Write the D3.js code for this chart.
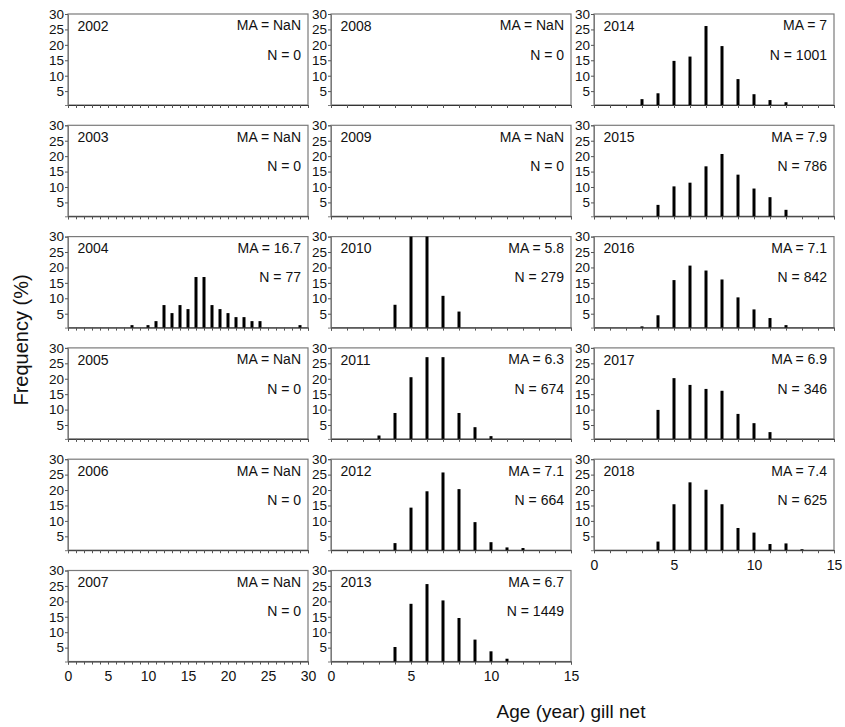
<!DOCTYPE html>
<html><head><meta charset="utf-8">
<script src="https://cdn.jsdelivr.net/npm/d3@7"></script>
<style>
body{margin:0;background:#fff}
text{font-family:"Liberation Sans",Arial,sans-serif;fill:#111}
</style>
</head><body>
<svg id="chart" width="845" height="727"></svg>
<script>
// Age-frequency distributions (%) from gill net samples, one panel per year
const years = [2002,2003,2004,2005,2006,2007,2008,2009,2010,2011,2012,2013,2014,2015,2016,2017,2018];
const meanAge = ["NaN","NaN","16.7","NaN","NaN","NaN","NaN","NaN","5.8","6.3","7.1","6.7","7","7.9","7.1","6.9","7.4"];
const sampleSize = [0,0,77,0,0,0,0,0,279,674,664,1449,1001,786,842,346,625];
const yTicks = [5,10,15,20,25,30];
const xTicksWide = [0,5,10,15,20,25,30];
const xTicksNarrow = [0,5,10,15];

// [age, percent]
const freq2004 = [[8,1.3],[10,1.3],[11,2.6],[12,7.8],[13,5.2],[14,7.8],[15,6.5],[16,16.9],[17,16.9],[18,7.8],[19,6.5],[20,5.2],[21,3.9],[22,3.9],[23,2.6],[24,2.6],[29,1.3]];
const freq2010 = [[4,7.9],[5,30.8],[6,44.8],[7,10.8],[8,5.7]];
const freq2011 = [[3,1.6],[4,8.9],[5,20.5],[6,27.0],[7,27.0],[8,8.9],[9,4.3],[10,1.4]];
const freq2012 = [[4,2.8],[5,14.3],[6,19.6],[7,25.7],[8,20.3],[9,9.6],[10,3.1],[11,1.4],[12,1.2]];
const freq2013 = [[4,5.2],[5,19.2],[6,25.6],[7,20.3],[8,14.6],[9,7.6],[10,3.8],[11,1.4]];
const freq2014 = [[3,2.4],[4,4.3],[5,14.8],[6,16.2],[7,26.1],[8,19.6],[9,8.9],[10,4.0],[11,2.1],[12,1.4]];
const freq2015 = [[4,4.2],[5,10.2],[6,11.4],[7,16.7],[8,20.7],[9,14.0],[10,9.5],[11,6.7],[12,2.6]];
const freq2016 = [[3,0.9],[4,4.5],[5,15.9],[6,20.6],[7,19.0],[8,16.1],[9,10.3],[10,6.4],[11,3.6],[12,1.3]];
const freq2017 = [[4,9.9],[5,20.2],[6,18.0],[7,16.7],[8,16.1],[9,8.6],[10,5.6],[11,2.7]];
const freq2018 = [[4,3.3],[5,15.4],[6,22.5],[7,20.1],[8,15.4],[9,7.7],[10,6.2],[11,2.5],[12,2.7],[13,0.8]];

const freqByYear = {2004:freq2004,2010:freq2010,2011:freq2011,2012:freq2012,2013:freq2013,
  2014:freq2014,2015:freq2015,2016:freq2016,2017:freq2017,2018:freq2018};

const svg = d3.select("#chart");
const colLeft = [68, 331, 594];
const panelW = 240, panelH = 91, rowTop = 14, rowStep = 111.3;
const perCol = 6;

years.forEach((yr, i) => {
  const col = Math.floor(i / perCol), row = i % perCol;
  const x0 = colLeft[col], y0 = rowTop + row * rowStep;
  const xMax = col === 0 ? 30 : 15;
  const x = d3.scaleLinear().domain([0, xMax]).range([0, panelW]);
  const y = d3.scaleLinear().domain([0.5, 30]).range([panelH, 0]).clamp(true);
  const g = svg.append("g").attr("transform", `translate(${x0},${y0})`);

  // frame
  g.append("rect").attr("width", panelW).attr("height", panelH)
    .attr("fill", "none").attr("stroke", "#7a7a7a").attr("stroke-width", 1.2);

  // y axis
  const ya = g.append("g").call(d3.axisLeft(y).tickValues(yTicks).tickSize(3).tickPadding(1));
  ya.select(".domain").attr("stroke", "#7a7a7a");
  ya.selectAll(".tick line").attr("stroke", "#555");
  ya.selectAll("text").style("font-size", "13.5px").attr("fill", "#111");

  // x axis: minor ticks every year of age
  const lastInCol = (col < 2 && row === perCol - 1) || (col === 2 && i === years.length - 1);
  const xa = g.append("g").attr("transform", `translate(0,${panelH})`)
    .call(d3.axisBottom(x).tickValues(d3.range(0, xMax + 1)).tickSize(3).tickFormat(""));
  xa.select(".domain").attr("stroke", "#333");
  xa.selectAll(".tick line").attr("stroke", "#555");
  if (lastInCol) {
    const xl = g.append("g").attr("transform", `translate(0,${panelH})`)
      .call(d3.axisBottom(x).tickValues(col === 0 ? xTicksWide : xTicksNarrow).tickSize(0).tickPadding(10));
    xl.select(".domain").remove();
    xl.selectAll("text").style("font-size", "14px").attr("fill", "#111");
  }

  // bars
  const data = freqByYear[yr] || [];
  g.selectAll("rect.bar").data(data).enter().append("rect").attr("class", "bar")
    .attr("x", d => x(d[0]) - 1.5).attr("width", 3)
    .attr("y", d => y(d[1])).attr("height", d => panelH - y(d[1]))
    .attr("fill", "#000");

  // labels
  g.append("text").attr("x", 9.5).attr("y", 12).attr("dy", "0.35em")
    .style("font-size", "14px").text(yr);
  g.append("text").attr("x", panelW - 7).attr("y", 11.5).attr("dy", "0.35em")
    .attr("text-anchor", "end").style("font-size", "14px").text(`MA = ${meanAge[i]}`);
  g.append("text").attr("x", panelW - 7).attr("y", 41).attr("dy", "0.35em")
    .attr("text-anchor", "end").style("font-size", "14px").text(`N = ${sampleSize[i]}`);
});

svg.append("text").attr("transform", "translate(28,340) rotate(-90)")
  .attr("text-anchor", "middle").style("font-size", "20px").text("Frequency (%)");
svg.append("text").attr("x", 571).attr("y", 718)
  .attr("text-anchor", "middle").style("font-size", "19px").text("Age (year) gill net");
</script>
</body></html>
